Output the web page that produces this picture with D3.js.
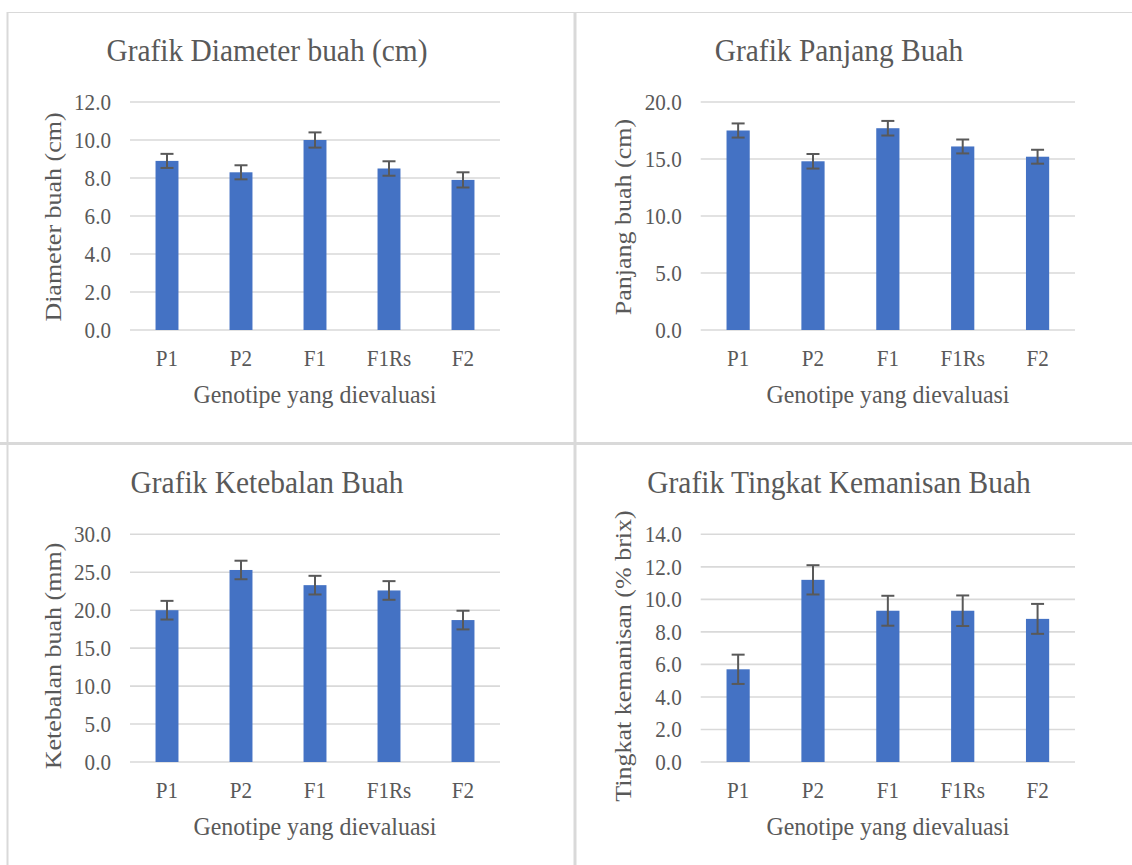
<!DOCTYPE html>
<html>
<head>
<meta charset="utf-8">
<script src="https://cdn.jsdelivr.net/npm/d3@7"></script>
<style>
  body { margin: 0; background: #fff; }
  svg text { font-family: "Liberation Serif", "Times New Roman", serif; fill: #595959; }
</style>
</head>
<body>
<svg id="chart" width="1132" height="865"></svg>
<script>
const categories = ["P1", "P2", "F1", "F1Rs", "F2"];

const diameter = [8.9, 8.3, 10.0, 8.5, 7.9];
const diameterErr = [0.37, 0.37, 0.40, 0.38, 0.40];

const panjang = [17.5, 14.8, 17.7, 16.1, 15.2];
const panjangErr = [0.62, 0.64, 0.64, 0.61, 0.61];

const ketebalan = [20.0, 25.3, 23.3, 22.6, 18.7];
const ketebalanErr = [1.23, 1.22, 1.23, 1.23, 1.23];

const kemanisan = [5.7, 11.2, 9.3, 9.3, 8.8];
const kemanisanErr = [0.90, 0.90, 0.92, 0.94, 0.92];

const titles = ["Grafik Diameter buah (cm)", "Grafik Panjang Buah", "Grafik Ketebalan Buah", "Grafik Tingkat Kemanisan Buah"];
const yLabels = ["Diameter buah (cm)", "Panjang buah (cm)", "Ketebalan buah (mm)", "Tingkat kemanisan (% brix)"];
const xLabel = "Genotipe yang dievaluasi";
const yMax = [12, 20, 30, 14];
const yStep = [2, 5, 5, 2];

// the picture is a bit squashed sideways, so draw wide and scale x
const SX = 0.92;
const px = x => x / SX;
const svg = d3.select("#chart");
const root = svg.append("g").attr("transform", `scale(${SX},1)`);

// frame lines
const frame = "#d9d9d9";
root.append("line").attr("x1", px(7)).attr("x2", px(1132)).attr("y1", 12.5).attr("y2", 12.5)
    .attr("stroke", frame).attr("stroke-width", 1.2);
root.append("line").attr("x1", px(7.5)).attr("x2", px(7.5)).attr("y1", 12).attr("y2", 865)
    .attr("stroke", frame).attr("stroke-width", 2 / SX);
root.append("line").attr("x1", px(575)).attr("x2", px(575)).attr("y1", 12).attr("y2", 865)
    .attr("stroke", frame).attr("stroke-width", 3 / SX);
root.append("line").attr("x1", 0).attr("x2", px(1132)).attr("y1", 443.5).attr("y2", 443.5)
    .attr("stroke", frame).attr("stroke-width", 3);

const panels = [
  {values: diameter, err: diameterErr, left: 130, right: 500, top: 102, bottom: 330,
   titleX: 267, titleY: 61, yTitleX: 61, yTitleY: 217, xTitleX: 315},
  {values: panjang, err: panjangErr, left: 700.7, right: 1075, top: 102, bottom: 330,
   titleX: 839, titleY: 61, yTitleX: 631, yTitleY: 217, xTitleX: 888},
  {values: ketebalan, err: ketebalanErr, left: 130, right: 500, top: 534.3, bottom: 762,
   titleX: 267, titleY: 493, yTitleX: 61, yTitleY: 656, xTitleX: 315},
  {values: kemanisan, err: kemanisanErr, left: 700.7, right: 1075, top: 534.3, bottom: 762,
   titleX: 839, titleY: 493, yTitleX: 631, yTitleY: 656, xTitleX: 888}
];

panels.forEach((p, k) => {
  const g = root.append("g");
  const x = d3.scaleBand().domain(categories).range([px(p.left), px(p.right)]).paddingInner(0.69).paddingOuter(0.345);
  const y = d3.scaleLinear().domain([0, yMax[k]]).range([p.bottom, p.top]);
  const ticks = d3.range(0, yMax[k] + 0.001, yStep[k]);

  // gridlines
  g.append("g")
    .selectAll("line")
    .data(ticks)
    .join("line")
    .attr("x1", px(p.left)).attr("x2", px(p.right))
    .attr("y1", d => y(d)).attr("y2", d => y(d))
    .attr("stroke", "#d9d9d9").attr("stroke-width", 1.6);

  // y axis labels
  const yAxis = g.append("g")
    .attr("transform", `translate(${px(p.left)},0)`)
    .call(d3.axisLeft(y).tickValues(ticks).tickSize(0).tickPadding(px(19)).tickFormat(d3.format(".1f")));
  yAxis.select(".domain").remove();
  yAxis.selectAll("text").style("font-size", "23px").attr("fill", "#595959");

  // x axis labels
  const xAxis = g.append("g")
    .attr("transform", `translate(0,${p.bottom})`)
    .call(d3.axisBottom(x).tickSize(0));
  xAxis.select(".domain").remove();
  xAxis.selectAll("text").attr("dy", null).attr("y", 36).style("font-size", "23px").attr("fill", "#595959");

  // bars
  g.append("g")
    .selectAll("rect")
    .data(p.values)
    .join("rect")
    .attr("x", (d, i) => x(categories[i]))
    .attr("width", x.bandwidth())
    .attr("y", d => y(d))
    .attr("height", d => y(0) - y(d))
    .attr("fill", "#4472c4");

  // error bars
  const cap = px(13) / 2;
  const eb = g.append("g").attr("stroke", "#595959").attr("stroke-width", 2).attr("fill", "none");
  p.values.forEach((d, i) => {
    const cx = x(categories[i]) + x.bandwidth() / 2;
    const e = p.err[i];
    eb.append("line").attr("x1", cx).attr("x2", cx).attr("y1", y(d + e)).attr("y2", y(d - e)).attr("stroke-width", 2 / SX);
    eb.append("line").attr("x1", cx - cap).attr("x2", cx + cap).attr("y1", y(d + e)).attr("y2", y(d + e));
    eb.append("line").attr("x1", cx - cap).attr("x2", cx + cap).attr("y1", y(d - e)).attr("y2", y(d - e));
  });

  // titles
  g.append("text")
    .attr("x", px(p.titleX)).attr("y", p.titleY)
    .attr("text-anchor", "middle")
    .style("font-size", "32px")
    .text(titles[k]);

  g.append("text")
    .attr("transform", `translate(${px(p.yTitleX)},${p.yTitleY}) rotate(-90)`)
    .attr("text-anchor", "middle")
    .style("font-size", "26px")
    .text(yLabels[k]);

  g.append("text")
    .attr("x", px(p.xTitleX)).attr("y", p.bottom + 73)
    .attr("text-anchor", "middle")
    .style("font-size", "26px")
    .text(xLabel);
});
</script>
</body>
</html>
